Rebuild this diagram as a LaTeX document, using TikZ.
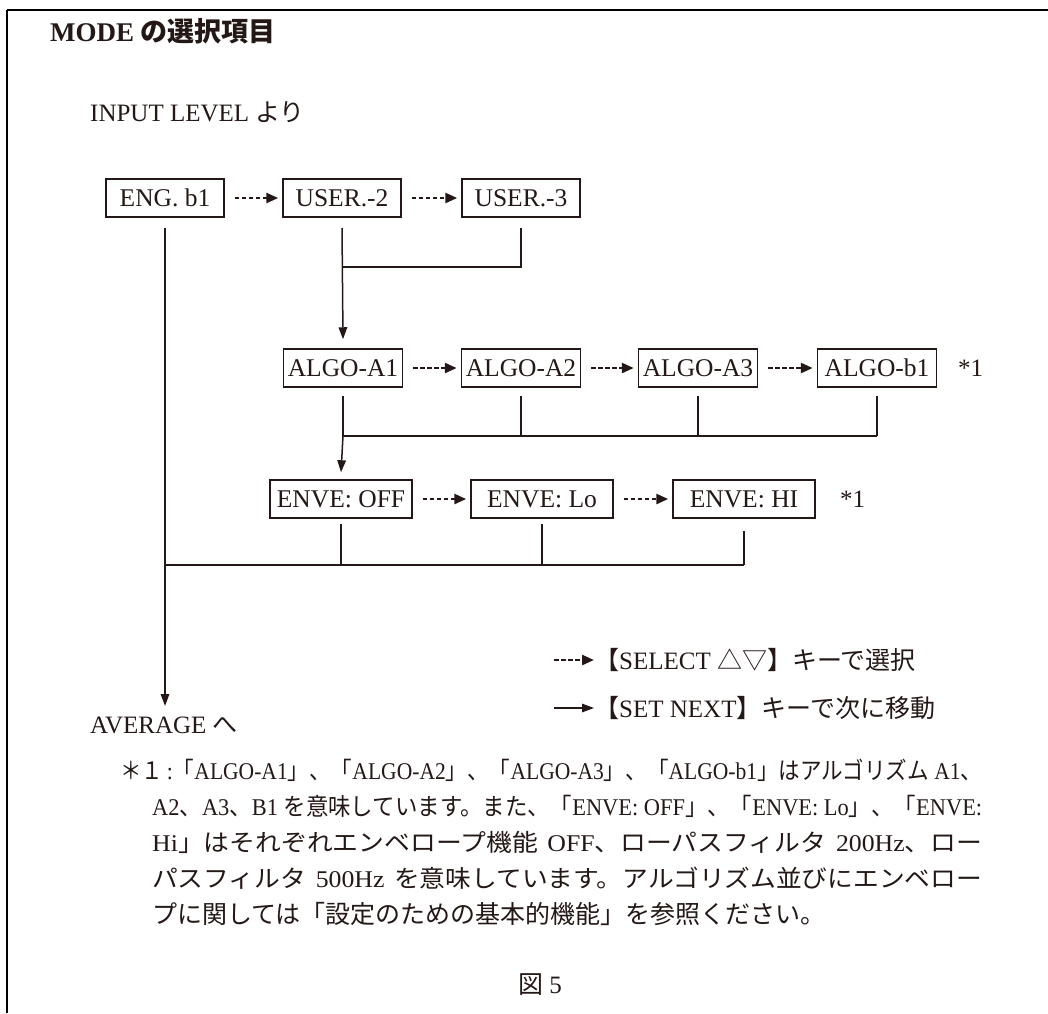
\documentclass[tikz,border=0pt]{standalone}
\usepackage{fontspec}
\usepackage{graphicx}
\setmainfont{Liberation Serif}
\newfontfamily\jp{Noto Sans CJK JP}
\usetikzlibrary{arrows.meta}
\definecolor{ink}{HTML}{231815}
\begin{document}
\begin{tikzpicture}[x=1pt,y=-1pt,
  box/.style={draw=ink, line width=1.5pt, minimum height=38pt, inner sep=0pt, text=ink, font=\fontsize{25.5}{25.5}\selectfont},
  sel/.style={draw=ink, line width=2.6pt, dash pattern=on 4.5pt off 2.5pt, -{Triangle[length=12pt,width=10pt]}},
  nxt/.style={draw=ink, line width=1.5pt, -{Triangle[length=12pt,width=8.5pt]}},
  ln/.style={draw=ink, line width=1.5pt},
  txt/.style={text=ink, inner sep=0pt, anchor=west, font=\fontsize{25}{25}\selectfont},
  fn/.style={text=ink, inner sep=0pt, anchor=west, font=\fontsize{24}{24}\selectfont}]
\useasboundingbox (0,0) rectangle (1048,1013);
\draw[line width=2pt] (7,10) -- (1048,10);
\draw[line width=2pt] (7,10) -- (7,1013);

\node[txt, font=\fontsize{27}{27}\selectfont\bfseries] (title) at (50,31) {MODE {\jp の選択項目}};
\node[txt] (inp) at (90,112) {INPUT LEVEL {\jp より}};

% row 1
\node[box, minimum width=118pt] (eng) at (165,198) {ENG. b1};
\node[box, minimum width=118pt] (u2) at (342,198) {USER.-2};
\node[box, minimum width=118pt] (u3) at (521,198) {USER.-3};
\draw[sel] ([xshift=10pt]eng.east) -- ([xshift=-4pt]u2.west);
\draw[sel] ([xshift=10pt]u2.east) -- ([xshift=-4pt]u3.west);

% row 2
\node[box, minimum width=119pt] (a1) at (343,368) {ALGO-A1};
\node[box, minimum width=119pt] (a2) at (521,368) {ALGO-A2};
\node[box, minimum width=119pt] (a3) at (698,368) {ALGO-A3};
\node[box, minimum width=119pt] (b1) at (877,368) {ALGO-b1};
\node[txt] (n1) at (958,368) {*1};
\draw[sel] ([xshift=10pt]a1.east) -- ([xshift=-4pt]a2.west);
\draw[sel] ([xshift=10pt]a2.east) -- ([xshift=-4pt]a3.west);
\draw[sel] ([xshift=10pt]a3.east) -- ([xshift=-4pt]b1.west);

% row 3
\node[box, minimum width=142pt] (e1) at (341,499) {ENVE: OFF};
\node[box, minimum width=142pt] (e2) at (542,499) {ENVE: Lo};
\node[box, minimum width=142pt] (e3) at (744,499) {ENVE: HI};
\node[txt] (n2) at (840,499) {*1};
\draw[sel] ([xshift=10pt]e1.east) -- ([xshift=-4pt]e2.west);
\draw[sel] ([xshift=10pt]e2.east) -- ([xshift=-4pt]e3.west);

% connectors
\coordinate (h1) at (0,267);
\coordinate (h2) at (0,436);
\coordinate (h3) at (0,565);
\coordinate (avg) at (165,706);
\draw[ln] ([yshift=-10pt]u3.south) |- (u2.south |- h1);
\draw[nxt] ([yshift=-10pt]u2.south) -- ([yshift=9pt]a1.north);
\foreach \n in {a1,a2,a3,b1} \draw[ln] ([yshift=-8pt]\n.south) -- (\n.south |- h2);
\draw[ln] (a1.south |- h2) -- (b1.south |- h2);
\draw[nxt] (a1.south |- h2) -- ([yshift=7pt]e1.north);
\draw[ln] ([yshift=-5pt]e1.south) -- (e1.south |- h3);
\draw[ln] ([yshift=-5pt]e2.south) -- (e2.south |- h3);
\draw[ln] ([yshift=-12pt]e3.south) -- (e3.south |- h3);
\draw[ln] (eng.south |- h3) -- (e3.south |- h3);
\draw[nxt] ([yshift=-10pt]eng.south) -- (avg);

\node[txt] (ave) at (90,725) {AVERAGE {\jp へ}};

% legend
\node[txt] (l1) at (594,660) {{\jp 【}SELECT {\jp △▽】キーで選択}};
\node[txt] (l2) at (594,708) {{\jp 【}SET NEXT{\jp 】キーで次に移動}};
\coordinate (s1) at (554,660);
\coordinate (s2) at (554,708);
\draw[sel] (s1) -- (l1.west);
\draw[nxt] (s2) -- (l2.west);

% footnote
\node[fn] (f1) at (120,770) {\resizebox{862pt}{\height}{{\jp ＊１}\,:{\jp 「}ALGO-A1{\jp 」、「}ALGO-A2{\jp 」、「}ALGO-A3{\jp 」、「}ALGO-b1{\jp 」はアルゴリズム} A1{\jp 、}}};
\node[fn] (f2) at (152,806) {\resizebox{830pt}{\height}{A2{\jp 、}A3{\jp 、}B1 {\jp を意味しています。また、「}ENVE: OFF{\jp 」、「}ENVE: Lo{\jp 」、「}ENVE:}};
\node[fn] (f3) at (152,842) {\resizebox{830pt}{\height}{Hi{\jp 」はそれぞれエンベロープ機能}\hspace{9pt}OFF{\jp 、ローパスフィルタ}\hspace{9pt}200Hz{\jp 、ロー}}};
\node[fn] (f4) at (152,878) {\resizebox{830pt}{\height}{{\jp パスフィルタ}\hspace{9pt}500Hz\hspace{9pt}{\jp を意味しています。アルゴリズム並びにエンベロー}}};
\node[fn, font=\fontsize{25}{25}\selectfont] (f5) at (152,914) {{\jp プに関しては「設定のための基本的機能」を参照ください。}};

\node[txt, anchor=center] (fig) at (540,985) {{\jp 図} 5};
\end{tikzpicture}
\end{document}
